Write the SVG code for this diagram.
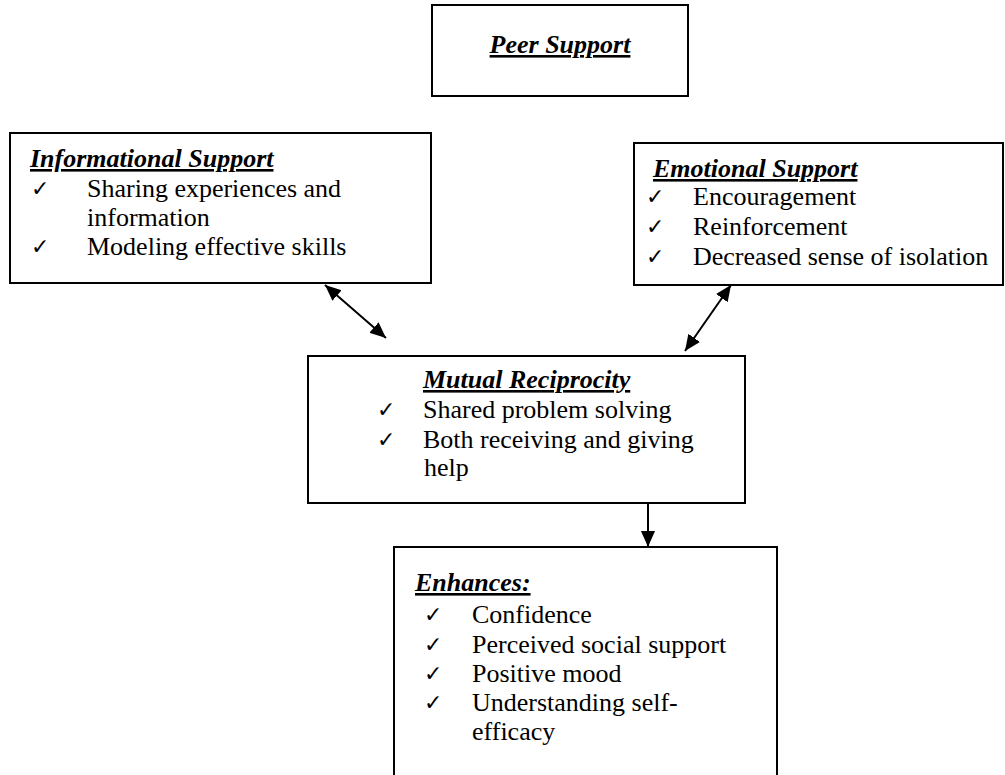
<svg xmlns="http://www.w3.org/2000/svg" width="1005" height="775" viewBox="0 0 1005 775">
<style>
.box{fill:#fff;stroke:#000;stroke-width:2}
.t{font-size:26px;fill:#000}
.h{font-size:26px;font-weight:bold;font-style:italic;text-decoration:underline;fill:#000}
.ck{font-size:22px;fill:#000}
.c{stroke:#000;stroke-width:2;fill:none}
</style>
<defs>
<marker id="a" viewBox="0 0 10 10" refX="10" refY="5" markerWidth="16" markerHeight="16" markerUnits="userSpaceOnUse" orient="auto-start-reverse">
<path d="M0,0.6 L10,5 L0,9.4 z" fill="#000"/>
</marker>
</defs>
<g font-family="Liberation Serif, Times New Roman, serif">
<g id="peer">
<rect class="box" x="432" y="5" width="256" height="91"/>
<text class="h" x="560" y="53" text-anchor="middle">Peer Support</text>
</g>
<g id="informational">
<rect class="box" x="10" y="133" width="421" height="150"/>
<text class="h" x="30" y="167">Informational Support</text>
<text class="ck" x="31" y="196" font-family="DejaVu Sans, sans-serif">✓</text>
<text class="t" x="87" y="197">Sharing experiences and</text>
<text class="t" x="87" y="226">information</text>
<text class="ck" x="31" y="254" font-family="DejaVu Sans, sans-serif">✓</text>
<text class="t" x="87" y="255">Modeling effective skills</text>
</g>
<g id="emotional">
<rect class="box" x="634" y="143" width="369" height="142"/>
<text class="h" x="653" y="177">Emotional Support</text>
<text class="ck" x="646" y="204" font-family="DejaVu Sans, sans-serif">✓</text>
<text class="t" x="693" y="205">Encouragement</text>
<text class="ck" x="646" y="234" font-family="DejaVu Sans, sans-serif">✓</text>
<text class="t" x="693" y="235">Reinforcement</text>
<text class="ck" x="646" y="264" font-family="DejaVu Sans, sans-serif">✓</text>
<text class="t" x="693" y="265">Decreased sense of isolation</text>
</g>
<g id="mutual">
<rect class="box" x="308" y="356" width="437" height="147"/>
<text class="h" x="423" y="388">Mutual Reciprocity</text>
<text class="ck" x="377" y="417" font-family="DejaVu Sans, sans-serif">✓</text>
<text class="t" x="423" y="418">Shared problem solving</text>
<text class="ck" x="377" y="447" font-family="DejaVu Sans, sans-serif">✓</text>
<text class="t" x="423" y="448">Both receiving and giving</text>
<text class="t" x="424" y="476">help</text>
</g>
<g id="enhances">
<rect class="box" x="394" y="547" width="383" height="240"/>
<text class="h" x="415" y="591">Enhances:</text>
<text class="ck" x="424" y="622" font-family="DejaVu Sans, sans-serif">✓</text>
<text class="t" x="472" y="623">Confidence</text>
<text class="ck" x="424" y="652" font-family="DejaVu Sans, sans-serif">✓</text>
<text class="t" x="472" y="653">Perceived social support</text>
<text class="ck" x="424" y="681" font-family="DejaVu Sans, sans-serif">✓</text>
<text class="t" x="472" y="682">Positive mood</text>
<text class="ck" x="424" y="710" font-family="DejaVu Sans, sans-serif">✓</text>
<text class="t" x="472" y="711">Understanding self-</text>
<text class="t" x="472" y="740">efficacy</text>
</g>
</g>
<g id="connectors">
<line class="c" x1="325" y1="285" x2="386" y2="338" marker-start="url(#a)" marker-end="url(#a)"/>
<line class="c" x1="731" y1="285" x2="685" y2="351" marker-start="url(#a)" marker-end="url(#a)"/>
<line class="c" x1="648" y1="503" x2="648" y2="547" marker-end="url(#a)"/>
</g>
</svg>
